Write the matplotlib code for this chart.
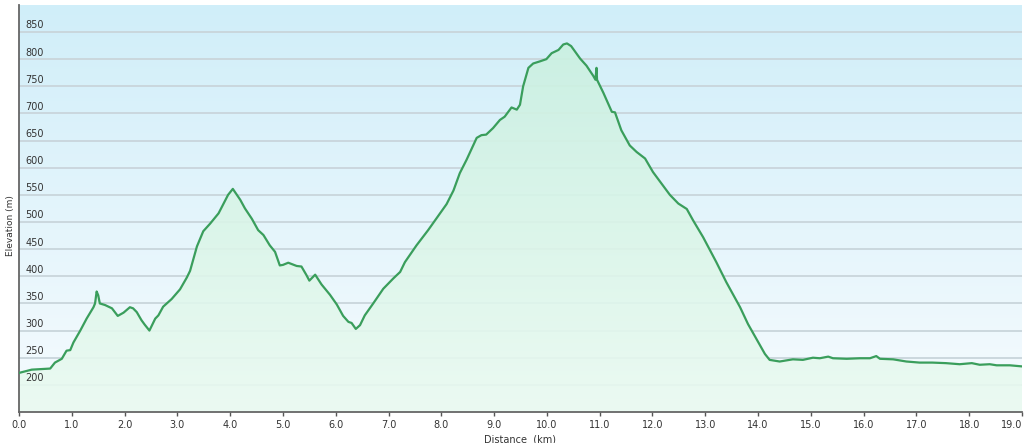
import numpy as np
import matplotlib
matplotlib.use("Agg")
import matplotlib.pyplot as plt
from matplotlib.colors import LinearSegmentedColormap
import matplotlib.transforms as mtransforms

# elevation profile
dist_km = [0.00, 0.24, 0.59, 0.68, 0.81, 0.90, 0.97, 1.03, 1.16, 1.28, 1.41, 1.44,
           1.47, 1.50, 1.53, 1.63, 1.76, 1.87, 1.98, 2.10, 2.16, 2.23, 2.32, 2.38,
           2.47, 2.58, 2.64, 2.73, 2.89, 3.05, 3.18, 3.24, 3.37, 3.49, 3.62, 3.78,
           3.96, 4.05, 4.19, 4.28, 4.41, 4.53, 4.63, 4.75, 4.85, 4.94, 5.00, 5.10,
           5.26, 5.35, 5.44, 5.50, 5.61, 5.73, 5.89, 6.02, 6.14, 6.24, 6.30, 6.38,
           6.46, 6.55, 6.71, 6.90, 7.09, 7.22, 7.31, 7.53, 7.75, 7.97, 8.10, 8.23,
           8.35, 8.48, 8.67, 8.76, 8.85, 8.98, 9.11, 9.20, 9.33, 9.43, 9.49, 9.55,
           9.65, 9.74, 9.87, 9.99, 10.09, 10.22, 10.31, 10.38, 10.46, 10.63, 10.75,
           10.88, 10.92, 10.94, 10.95, 11.07, 11.23, 11.29, 11.41, 11.57, 11.70,
           11.86, 12.01, 12.17, 12.33, 12.49, 12.65, 12.77, 12.96, 13.09, 13.21,
           13.40, 13.66, 13.81, 14.03, 14.13, 14.22, 14.41, 14.66, 14.85, 15.04,
           15.17, 15.33, 15.42, 15.68, 15.93, 16.12, 16.24, 16.31, 16.56, 16.81,
           17.06, 17.30, 17.56, 17.82, 18.05, 18.20, 18.39, 18.52, 18.77, 19.00]
elev_m = [222, 228, 230, 241, 248, 263, 264, 278, 300, 322, 343, 350,
          372, 365, 350, 347, 341, 327, 333, 343, 341, 334, 319, 311,
          300, 322, 328, 344, 358, 376, 398, 410, 455, 483, 497, 516,
          550, 561, 541, 525, 506, 485, 476, 457, 445, 420, 421, 425,
          419, 418, 403, 392, 403, 385, 366, 348, 327, 316, 314, 303,
          310, 328, 350, 377, 396, 408, 426, 457, 485, 515, 533, 558,
          590, 615, 655, 660, 661, 673, 688, 694, 711, 707, 716, 750,
          784, 792, 796, 800, 811, 817, 827, 829, 824, 801, 788,
          769, 762, 784, 762, 738, 703, 702, 669, 641, 629,
          617, 592, 571, 550, 534, 524, 503, 472, 448, 426,
          389, 343, 312, 274, 257, 246, 243, 247, 246, 250,
          249, 252, 249, 248, 249, 249, 253, 248, 247, 243,
          241, 241, 240, 238, 240, 237, 238, 236, 236, 234]

y_ticks = [200, 250, 300, 350, 400, 450, 500, 550, 600, 650, 700, 750, 800, 850]
x_ticks = np.arange(0, 19.5, 1.0)
y_min, y_max = 150, 900
x_min, x_max = 0, 19.0

fig = plt.figure(figsize=(10.24, 4.43), dpi=100)
ax = fig.add_axes([0.0186, 0.070, 0.9794, 0.919])
ax.set_xlim(x_min, x_max)
ax.set_ylim(y_min, y_max)

# background gradient (light blue at top -> almost white at bottom)
bg_cmap = LinearSegmentedColormap.from_list("bg", ["#f6fbfe", "#d0eef9"])
grad = np.linspace(0, 1, 256).reshape(-1, 1)
ax.imshow(grad, cmap=bg_cmap, aspect="auto", origin="lower",
          extent=[x_min, x_max, y_min, y_max], zorder=0)

# grid lines
for v in y_ticks:
    ax.axhline(v, color="#c9d5db", lw=1.3, zorder=1)

# green gradient fill under the profile
fill = ax.fill_between(dist_km, elev_m, y_min, color="none", lw=0, zorder=2)
fill_cmap = LinearSegmentedColormap.from_list("fill", ["#eafaf1", "#c8f0df"])
img = ax.imshow(grad, cmap=fill_cmap, aspect="auto", origin="lower",
                extent=[x_min, x_max, y_min, y_max], zorder=2, alpha=0.9)
img.set_clip_path(fill.get_paths()[0], transform=ax.transData)

ax.plot(dist_km, elev_m, color="#3a9e5c", lw=1.6, zorder=3)

# y labels sit inside the plot, just above their grid line
trans = mtransforms.blended_transform_factory(ax.transAxes, ax.transData)
for v in y_ticks:
    ax.text(0.006, v + 3, str(v), transform=trans, fontsize=7, color="#333333",
            ha="left", va="bottom", zorder=4)
ax.set_yticks([])

ax.set_xticks(x_ticks)
ax.set_xticklabels([f"{t:.1f}" for t in x_ticks], fontsize=7, color="#333333")
ax.get_xticklabels()[-1].set_ha("right")
ax.tick_params(axis="x", length=3, width=1, color="#555555", pad=3)

ax.set_xlabel("Distance  (km)", fontsize=7, color="#333333", labelpad=3)
fig.text(0.010, 0.49, "Elevation (m)", rotation=90, fontsize=6.5,
         color="#333333", ha="center", va="center")

for s in ["top", "right"]:
    ax.spines[s].set_visible(False)
ax.spines["left"].set_color("#666666")
ax.spines["bottom"].set_color("#666666")
ax.spines["left"].set_linewidth(1.3)
ax.spines["bottom"].set_linewidth(1.3)

fig.savefig("out.png", dpi=100)
